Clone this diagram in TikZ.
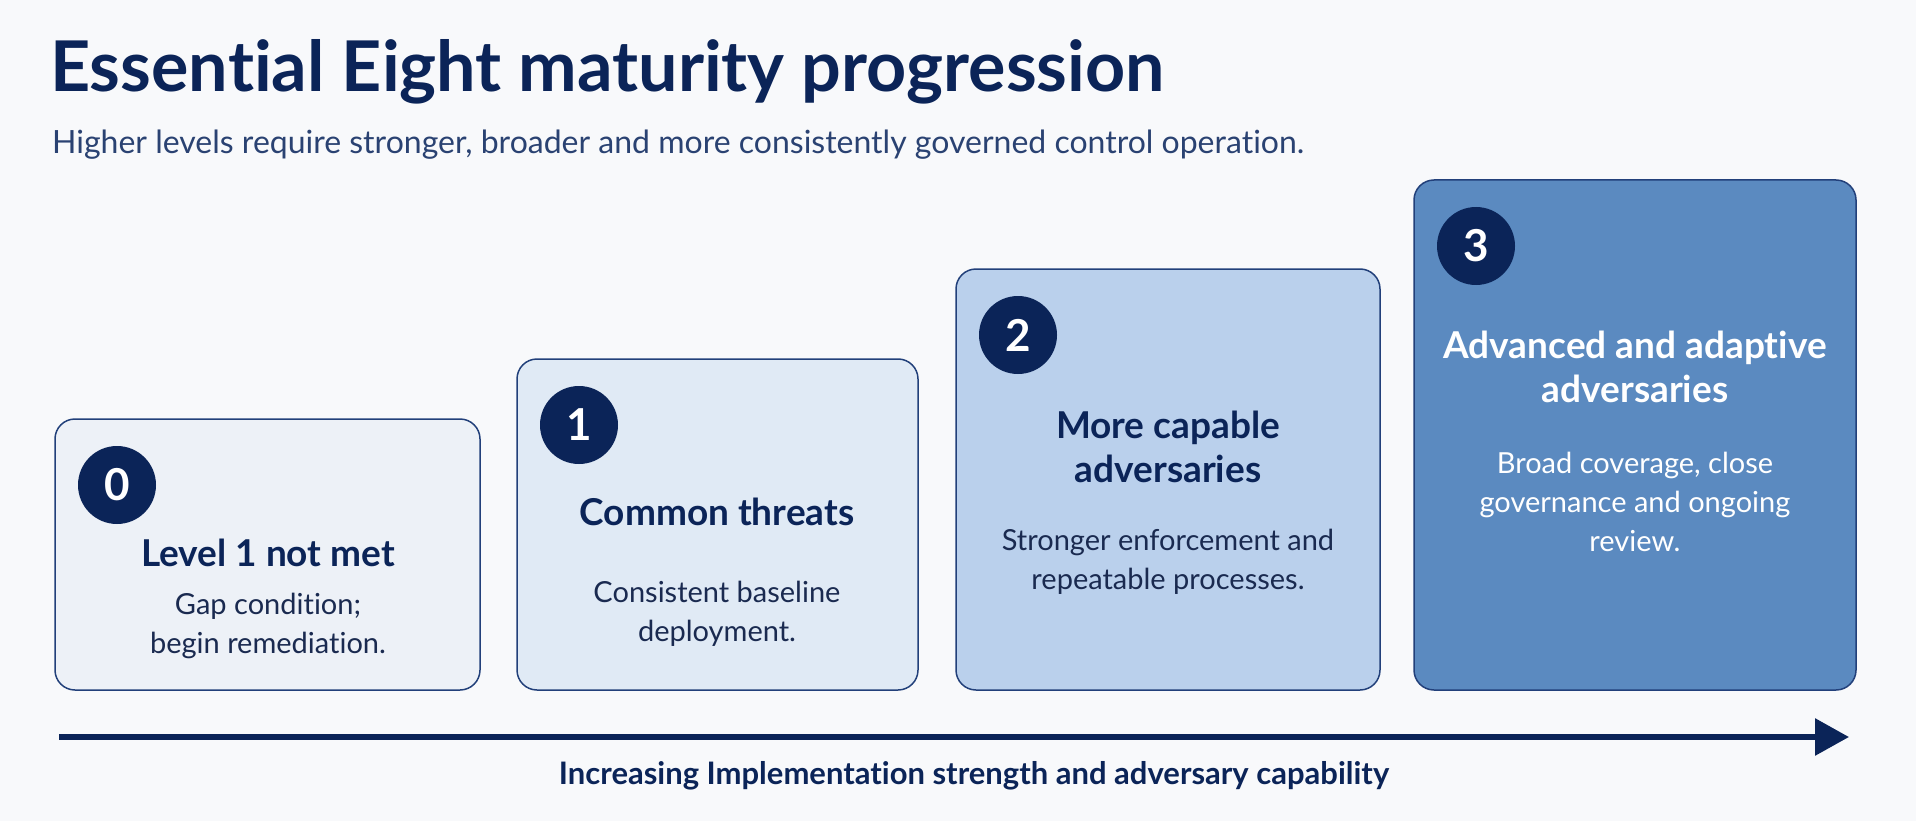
\documentclass[tikz,border=0pt]{standalone}
\usepackage{fontspec}
\setmainfont{Lato}[Ligatures=NoCommon]
\usetikzlibrary{arrows.meta}
\definecolor{navy}{HTML}{0B2458}
\definecolor{boxline}{HTML}{22407A}
\definecolor{pagebg}{HTML}{F8F9FB}
\definecolor{subtext}{HTML}{2A4272}
\definecolor{bodytext}{HTML}{1A2A50}
\definecolor{fillzero}{HTML}{EDF1F7}
\definecolor{fillone}{HTML}{E0EAF5}
\definecolor{filltwo}{HTML}{BAD0EC}
\definecolor{fillthree}{HTML}{5B8AC0}
\tikzset{
  levelbox/.style={draw=boxline,line width=1.5pt,rounded corners=20pt},
  levelnum/.style={circle,fill=navy,text=white,minimum size=78pt,font=\fontsize{44}{44}\selectfont\bfseries},
  leveltitle/.style={align=center,text=navy,font=\fontsize{37}{44}\selectfont\bfseries},
  leveldesc/.style={align=center,text=bodytext,font=\fontsize{29}{39}\selectfont},
  axisline/.style={draw=navy,line width=6pt,-{Triangle[length=34pt,width=36pt]}}
}
\begin{document}
\begin{tikzpicture}[x=1pt,y=-1pt,every node/.style={inner sep=0pt}]
\fill[pagebg] (0,0) rectangle (1916,821);
\useasboundingbox (0,0) rectangle (1916,821);

\node[anchor=base west,text=navy,font=\fontsize{70}{70}\selectfont\bfseries] (heading) at (50,92) {Essential Eight maturity progression};
\node[anchor=base west,text=subtext,font=\fontsize{32}{32}\selectfont] (subheading) at (52,154) {Higher levels require stronger, broader and more consistently governed control operation.};

\foreach \i/\cx/\cy/\w/\h/\fc in {0/267.5/554.5/425/271/fillzero, 1/717.5/524.5/401/331/fillone, 2/1168/479.5/424/421/filltwo, 3/1635/435/442/510/fillthree}{
  \node[levelbox,fill=\fc,minimum width=\w*1pt,minimum height=\h*1pt] (box\i) at (\cx,\cy) {};
  \node[levelnum] (num\i) at (\cx-\w/2+62,\cy-\h/2+66) {\i};
}

\node[leveltitle] (title0) at (268,553) {Level 1 not met};
\node[leveldesc] (desc0) at (268,626) {Gap condition;\\begin remediation.};
\node[leveltitle] (title1) at (717,512) {Common threats};
\node[leveldesc] (desc1) at (717,614) {Consistent baseline\\deployment.};
\node[leveltitle] (title2) at (1168,447) {More capable\\adversaries};
\node[leveldesc] (desc2) at (1168,562) {Stronger enforcement and\\repeatable processes.};
\node[leveltitle,text=white] (title3) at (1635,367) {Advanced and adaptive\\adversaries};
\node[leveldesc,text=white] (desc3) at (1635,502) {Broad coverage, close\\governance and ongoing\\review.};

\coordinate (axisstart) at (59,737);
\coordinate (axisend) at (1849,737);
\draw[axisline] (axisstart) -- (axisend);
\node[text=navy,font=\fontsize{31}{31}\selectfont\bfseries] (axislabel) at (974,776) {Increasing Implementation strength and adversary capability};
\end{tikzpicture}
\end{document}
